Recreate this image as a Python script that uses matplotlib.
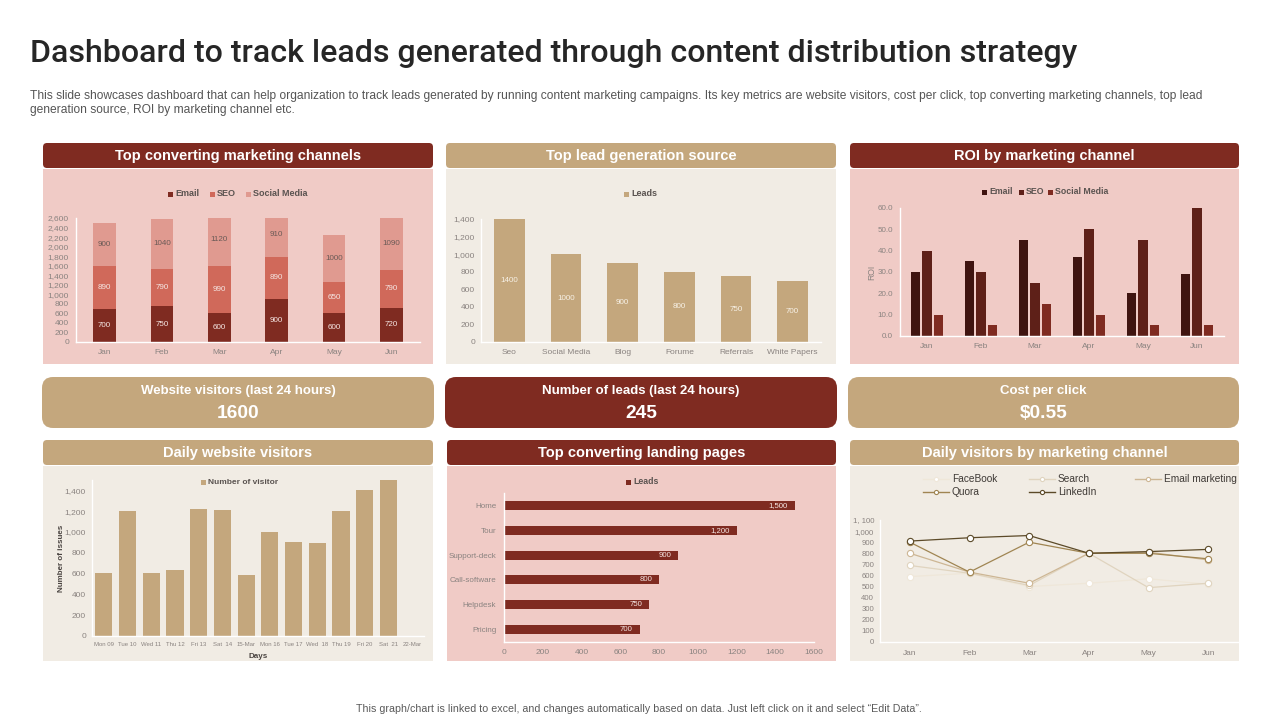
import matplotlib
matplotlib.use("Agg")
import matplotlib.pyplot as plt
from matplotlib.patches import FancyBboxPatch, Rectangle
from matplotlib.lines import Line2D
import numpy as np

months = ['Jan', 'Feb', 'Mar', 'Apr', 'May', 'Jun']
email = [700, 750, 600, 900, 600, 720]
seo = [890, 790, 990, 890, 650, 790]
social = [900, 1040, 1120, 910, 1000, 1090]

sources = ['Seo', 'Social Media', 'Blog', 'Forume', 'Referrals', 'White Papers']
source_leads = [1400, 1000, 900, 800, 750, 700]

roi_email = [30, 35, 45, 37, 20, 29]
roi_seo = [40, 30, 25, 50, 45, 60]
roi_social = [10, 5, 15, 10, 5, 5]

days = ['Mon 09', 'Tue 10', 'Wed 11', 'Thu 12', 'Fri 13', 'Sat  14', '15-Mar', 'Mon 16',
        'Tue 17', 'Wed  18', 'Thu 19', 'Fri 20', 'Sat  21', '22-Mar']
visitors = [610, 1200, 610, 630, 1225, 1215, 590, 1000, 900, 890, 1200, 1400, 1500, 0]

pages = ['Home', 'Tour', 'Support-deck', 'Call-software', 'Helpdesk', 'Pricing']
page_leads = [1500, 1200, 900, 800, 750, 700]

facebook = [590, 620, 500, 530, 570, 520]
search = [690, 620, 510, 800, 490, 530]
email_mkt = [800, 630, 530, 800, 810, 740]
quora = [900, 630, 900, 800, 800, 750]
linkedin = [910, 940, 960, 800, 815, 835]

TITLE = 'Dashboard to track leads generated through content distribution strategy'
SUB1 = ('This slide showcases dashboard that can help organization to track leads generated by running content '
        'marketing campaigns. Its key metrics are website visitors, cost per click, top converting marketing channels, top lead')
SUB2 = 'generation source, ROI by marketing channel etc.'
FOOT = 'This graph/chart is linked to excel, and changes automatically based on data. Just left click on it and select \u201cEdit Data\u201d.'

RED = '#7F2B21'
TAN = '#C4A77D'
PINK = '#F0CBC6'
CREAM = '#F1ECE4'
GREY = '#8A8380'
DARK = '#4A4441'
W, H = 1280, 720

plt.rcParams['font.family'] = ['Liberation Sans', 'DejaVu Sans']
fig = plt.figure(figsize=(12.8, 7.2), dpi=100, facecolor='white')
bg = fig.add_axes([0, 0, 1, 1])
bg.set_xlim(0, W)
bg.set_ylim(H, 0)
bg.axis('off')


def make_ax(x0, y0, x1, y1):
    """Axes from pixel box: x0,x1 left/right; y0 top, y1 bottom."""
    ax = fig.add_axes([x0 / W, 1 - y1 / H, (x1 - x0) / W, (y1 - y0) / H])
    ax.patch.set_alpha(0)
    for s in ['top', 'right']:
        ax.spines[s].set_visible(False)
    for s in ['left', 'bottom']:
        ax.spines[s].set_color('white')
        ax.spines[s].set_linewidth(1.0)
    ax.tick_params(length=0, colors=GREY, labelsize=6, pad=3)
    return ax


def rounded(x0, y0, x1, y1, color, r=5):
    bg.add_patch(FancyBboxPatch((x0 + r, y0 + r), x1 - x0 - 2 * r, y1 - y0 - 2 * r,
                                boxstyle=f'round,pad={r},rounding_size={r}', fc=color, ec='none'))


def panel(x0, x1, y0, title, head, body):
    bg.add_patch(Rectangle((x0, y0 + 26), x1 - x0, 195, fc=body, ec='none'))
    rounded(x0, y0, x1, y0 + 25, head, 4)
    bg.text((x0 + x1) / 2, y0 + 13.2, title, color='white', fontsize=10.5, fontweight='bold',
            ha='center', va='center')


def kpi(x0, x1, title, value, color):
    rounded(x0, 377, x1, 428, color, 11)
    bg.text((x0 + x1) / 2, 391, title, color='white', fontsize=9.5, fontweight='bold', ha='center', va='center')
    bg.text((x0 + x1) / 2, 414, value, color='white', fontsize=13.8, fontweight='bold', ha='center', va='center')


def legend(cx_items, y, color='#5A5350', size=6.5):
    for x, label, c in cx_items:
        bg.add_patch(Rectangle((x, y - 2.5), 5, 5, fc=c, ec='none'))
        bg.text(x + 7, y, label, color=color, fontsize=size, va='center', ha='left', fontweight='bold')


bg.text(30, 53, TITLE, fontsize=23.15, color='#262626', family=['Roboto', 'DejaVu Sans'], fontweight='medium',
        va='center', ha='left')
bg.text(30, 96, SUB1, fontsize=8.63, color='#555555', va='center', ha='left')
bg.text(30, 110, SUB2, fontsize=8.63, color='#555555', va='center', ha='left')
bg.text(639, 709, FOOT, fontsize=7.7, color='#5A5A5A', va='center', ha='center')

panel(43, 433, 143, 'Top converting marketing channels', RED, PINK)
panel(446, 836, 143, 'Top lead generation source', TAN, CREAM)
panel(850, 1239, 143, 'ROI by marketing channel', RED, PINK)
kpi(42, 434, 'Website visitors (last 24 hours)', '1600', TAN)
kpi(445, 837, 'Number of leads (last 24 hours)', '245', RED)
kpi(848, 1239, 'Cost per click', '$0.55', TAN)
panel(43, 433, 440, 'Daily website visitors', TAN, CREAM)
panel(447, 836, 440, 'Top converting landing pages', RED, PINK)
panel(850, 1239, 440, 'Daily visitors by marketing channel', TAN, CREAM)

# chart 1: stacked columns
ax = make_ax(76, 218, 420, 342)
x = np.arange(len(months))
C1, C2, C3 = '#7F2B21', '#D0695A', '#E09A90'
ax.bar(x, email, 0.4, color=C1)
ax.bar(x, seo, 0.4, bottom=email, color=C2)
ax.bar(x, social, 0.4, bottom=np.add(email, seo), color=C3)
for i in x:
    ax.text(i, email[i] / 2, email[i], color='#F5E6E3', fontsize=5.8, ha='center', va='center')
    ax.text(i, email[i] + seo[i] / 2, seo[i], color='#F5E6E3', fontsize=5.8, ha='center', va='center')
    ax.text(i, email[i] + seo[i] + social[i] / 2, social[i], color='#6A5A56', fontsize=5.8, ha='center', va='center')
ax.set_xlim(-0.5, 5.5)
ax.set_ylim(0, 2600)
ax.set_yticks(np.arange(0, 2601, 200))
ax.set_yticklabels([f'{v:,}' for v in range(0, 2601, 200)], fontsize=6)
ax.set_xticks(x)
ax.set_xticklabels(months, fontsize=6)
ax.tick_params(axis='x', pad=5)
ax.tick_params(axis='y', pad=5)
legend([(168, 'Email', C1), (210, 'SEO', C2), (246, 'Social Media', C3)], 194)

# chart 2: lead source
ax = make_ax(481, 219, 821, 342)
x = np.arange(len(sources))
ax.bar(x, source_leads, 0.54, color=TAN)
for i in x:
    ax.text(i, source_leads[i] / 2, source_leads[i], color='#F7F1E6', fontsize=5.8, ha='center', va='center')
ax.set_xlim(-0.5, 5.5)
ax.set_ylim(0, 1400)
ax.set_yticks(np.arange(0, 1401, 200))
ax.set_yticklabels([f'{v:,}' for v in range(0, 1401, 200)], fontsize=6)
ax.set_xticks(x)
ax.set_xticklabels(sources, fontsize=6)
ax.tick_params(axis='x', pad=5)
ax.tick_params(axis='y', pad=4.3)
legend([(624, 'Leads', TAN)], 194, color='#5A5350')

# chart 3: ROI
ax = make_ax(900, 208, 1224, 336)
x = np.arange(len(months))
R1, R2, R3 = '#3F1410', '#5E2018', '#7F2B21'
off = 0.222
bw = 0.167
ax.bar(x - off, roi_email, bw, color=R1)
ax.bar(x, roi_seo, bw, color=R2)
ax.bar(x + off, roi_social, bw, color=R3)
ax.set_xlim(-0.5, 5.5)
ax.set_ylim(0, 60)
ax.set_yticks(np.arange(0, 61, 10))
ax.set_yticklabels([f'{v:.1f}' for v in range(0, 61, 10)], fontsize=5.8)
ax.set_xticks(x)
ax.set_xticklabels(months, fontsize=6)
ax.tick_params(axis='x', pad=5)
ax.tick_params(axis='y', pad=5)
ax.set_ylabel('ROI', color=GREY, fontsize=6.2, labelpad=1)
legend([(982, 'Email', R1), (1019, 'SEO', R2), (1048, 'Social Media', R3)], 192, size=6.3)

# chart 4: daily visitors
ax = make_ax(92, 480, 424, 636)
x = np.arange(len(days))
ax.bar(x, visitors, 0.72, color=TAN)
ax.set_xlim(-0.5, 13.5)
ax.set_ylim(0, 1500)
ax.set_yticks(np.arange(0, 1401, 200))
ax.set_yticklabels([f'{v:,}' for v in range(0, 1401, 200)], fontsize=6)
ax.set_xticks(x)
ax.set_xticklabels(days, fontsize=4.3)
ax.tick_params(axis='x', pad=4)
ax.tick_params(axis='y', pad=4.3)
ax.set_xlabel('Days', color=DARK, fontsize=5.8, fontweight='bold', labelpad=5)
ax.set_ylabel('Number of issues', color=DARK, fontsize=5.8, fontweight='bold', labelpad=0)
legend([(201, 'Number of visitor', TAN)], 482, size=6)

# chart 5: landing pages
ax = make_ax(504, 493, 814, 642)
y = np.arange(len(pages))
ax.barh(y, page_leads, 0.36, color=RED)
for i in y:
    ax.text(page_leads[i] - 35, i, f'{page_leads[i]:,}', color='#F5E6E3', fontsize=5.6, ha='right', va='center')
ax.set_xlim(0, 1600)
ax.set_ylim(5.5, -0.5)
ax.set_yticks(y)
ax.set_yticklabels(pages, fontsize=5.8)
ax.set_xticks(np.arange(0, 1601, 200))
ax.set_xticklabels([str(v) for v in range(0, 1601, 200)], fontsize=6)
ax.tick_params(axis='x', pad=5)
ax.tick_params(axis='y', pad=5.5)
legend([(626, 'Leads', RED)], 482, size=6.3)

# chart 6: lines
ax = make_ax(880, 520, 1238, 642)
x = np.arange(len(months))
series = [('FaceBook', facebook, '#EFE7D9', 0.9), ('Search', search, '#E0D4BF', 0.9),
          ('Email marketing', email_mkt, '#CDB694', 0.9), ('Quora', quora, '#A08552', 0.9),
          ('LinkedIn', linkedin, '#5C4A28', 0.9)]
for label, vals, c, lw in series:
    ax.plot(x, vals, color=c, lw=lw, marker='o', ms=4.5, mfc='white', mec=c, mew=0.8, clip_on=False, label=label)
ax.set_xlim(-0.5, 5.5)
ax.set_ylim(0, 1100)
ax.set_yticks(np.arange(0, 1101, 100))
ax.set_yticklabels([f'{v:,}' if v != 1100 else '1, 100' for v in range(0, 1101, 100)], fontsize=5.6)
ax.set_xticks(x)
ax.set_xticklabels(months, fontsize=6)
ax.tick_params(axis='x', pad=6)
ax.tick_params(axis='y', pad=4.3)
leg_pos = [(923, 479), (1029, 479), (1135, 479), (923, 492), (1029, 492)]
for (lx, ly), (label, vals, c, lw) in zip(leg_pos, series):
    bg.add_line(Line2D([lx, lx + 26], [ly, ly], color=c, lw=1, marker=None))
    bg.plot([lx + 13], [ly], marker='o', ms=3, mfc='white', mec=c, mew=0.8)
    bg.text(lx + 29, ly, label, color='#3F3A36', fontsize=7.3, va='center', ha='left')
bg.set_xlim(0, W)
bg.set_ylim(H, 0)

fig.savefig('out.png', dpi=100, facecolor='white')
